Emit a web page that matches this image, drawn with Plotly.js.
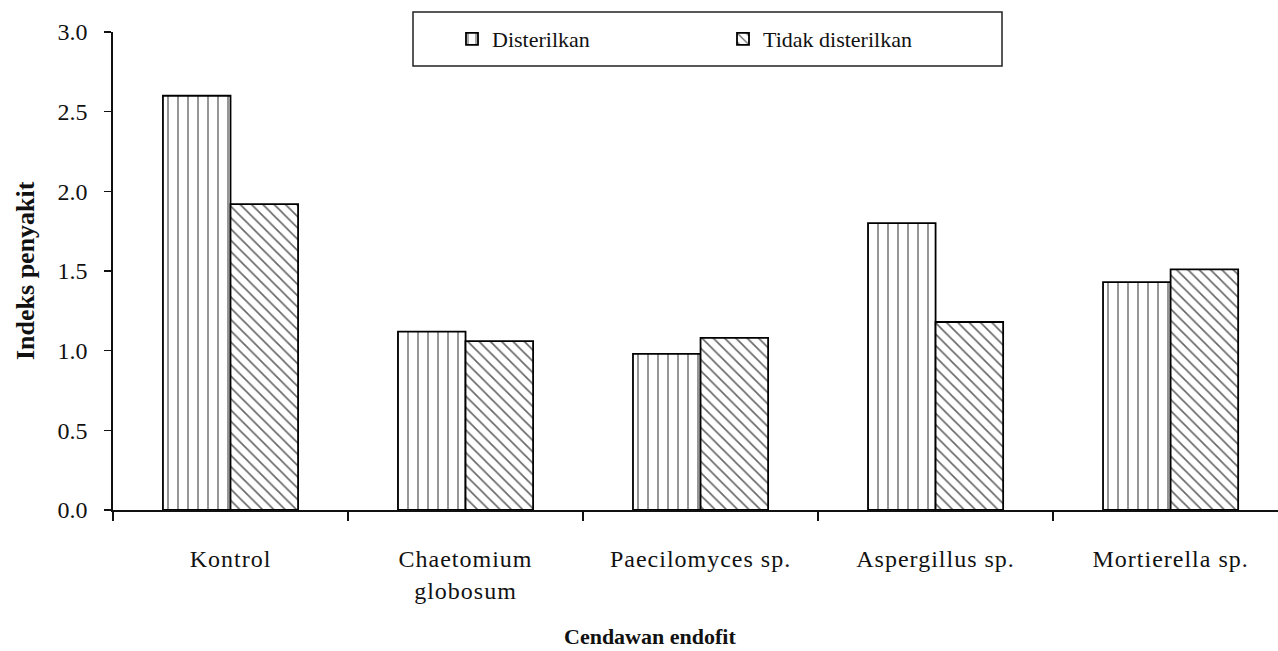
<!DOCTYPE html>
<html>
<head>
<meta charset="utf-8">
<script src="https://cdn.plot.ly/plotly-3.0.1.min.js"></script>
<style>
html,body{margin:0;padding:0;background:#fff;}
#chart{width:1278px;height:651px;}
#chart .xtick text{letter-spacing:1px;}
</style>
</head>
<body>
<div id="chart"></div>
<script>
var categories = ["Kontrol", "Chaetomium<br>globosum", "Paecilomyces sp.", "Aspergillus sp.", "Mortierella sp."];
var seriesNames = ["Disterilkan", "Tidak disterilkan"];
var disterilkan = [2.60, 1.12, 0.98, 1.80, 1.43];
var tidakDisterilkan = [1.92, 1.06, 1.08, 1.18, 1.51];
var yTickVals = [0, 0.5, 1.0, 1.5, 2.0, 2.5, 3.0];
var yTickText = ["0.0", "0.5", "1.0", "1.5", "2.0", "2.5", "3.0"];
var xTitle = "Cendawan endofit";
var yTitle = "Indeks penyakit";

var FONT = "Liberation Serif, DejaVu Serif, serif";

var traces = [
  {
    type: "bar", name: seriesNames[0], x: categories, y: disterilkan,
    marker: {
      color: "#ffffff",
      line: {color: "#000000", width: 1.8},
      pattern: {shape: "|", fgcolor: "#000000", bgcolor: "#ffffff", size: 10, solidity: 0.15, fgopacity: 0.55}
    },
    hoverinfo: "skip"
  },
  {
    type: "bar", name: seriesNames[1], x: categories, y: tidakDisterilkan,
    marker: {
      color: "#ffffff",
      line: {color: "#000000", width: 1.8},
      pattern: {shape: "\\", fgcolor: "#000000", bgcolor: "#ffffff", size: 8, solidity: 0.2, fgopacity: 0.6}
    },
    hoverinfo: "skip"
  }
];

var plotW = 1278 - 113;
var plotH = 651 - 32 - 141;
function px2x(p) { return (p - 113) / plotW; }
function py2y(p) { return (510 - p) / plotH; }

var layout = {
  width: 1278, height: 651,
  margin: {l: 113, r: 0, t: 32, b: 141},
  paper_bgcolor: "#ffffff", plot_bgcolor: "#ffffff",
  font: {family: FONT, size: 21, color: "#111111"},
  barmode: "group",
  bargap: 0.425,
  bargroupgap: 0,
  showlegend: true,
  legend: {
    orientation: "h",
    x: px2x(452), xanchor: "left",
    y: py2y(39), yanchor: "middle",
    bgcolor: "rgba(0,0,0,0)",
    borderwidth: 0,
    entrywidth: 226, entrywidthmode: "pixels",
    font: {family: FONT, size: 22, color: "#111111"},
    traceorder: "normal"
  },
  xaxis: {
    type: "category",
    range: [-0.5, 4.457],
    showgrid: false, zeroline: false,
    showline: true, linecolor: "#111111", linewidth: 1.6,
    ticks: "outside", ticklen: 9, tickwidth: 1.5, tickcolor: "#111111",
    tickson: "boundaries",
    ticklabelstandoff: 27,
    tickfont: {family: FONT, size: 24, color: "#111111"},
    fixedrange: true
  },
  yaxis: {
    range: [0, 3.0],
    tickvals: yTickVals, ticktext: yTickText,
    showgrid: false, zeroline: false,
    showline: true, linecolor: "#111111", linewidth: 1.6,
    ticks: "outside", ticklen: 7, tickwidth: 1.5, tickcolor: "#111111",
    ticklabelstandoff: 12,
    tickfont: {family: FONT, size: 24, color: "#111111"},
    fixedrange: true
  },
  shapes: [
    {type: "rect", xref: "paper", yref: "paper",
     x0: px2x(413), x1: px2x(1002), y0: py2y(66), y1: py2y(12),
     line: {color: "#222222", width: 1.5}, fillcolor: "#ffffff", layer: "below"}
  ],
  annotations: [
    {text: "<b>" + xTitle + "</b>", xref: "paper", yref: "paper",
     x: px2x(650), y: py2y(636), xanchor: "center", yanchor: "middle",
     showarrow: false, font: {family: FONT, size: 22, color: "#111111"}},
    {text: "<b>" + yTitle + "</b>", xref: "paper", yref: "paper",
     x: px2x(25), y: py2y(271), xanchor: "center", yanchor: "middle", textangle: -90,
     showarrow: false, font: {family: FONT, size: 26, color: "#111111"}}
  ]
};

Plotly.newPlot("chart", traces, layout, {displayModeBar: false, staticPlot: true});
</script>
</body>
</html>
